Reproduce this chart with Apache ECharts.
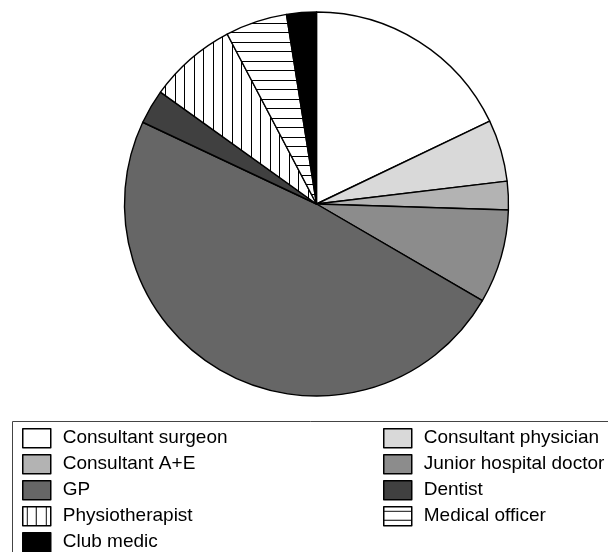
<!DOCTYPE html>
<html>
<head>
<meta charset="utf-8">
<script src="https://cdn.jsdelivr.net/npm/echarts@6/dist/echarts.min.js"></script>
<style>html,body{margin:0;padding:0;background:#fff;}#c{width:608px;height:552px;}</style>
</head>
<body>
<div id="c"></div>
<script>
var categories = ['Consultant surgeon','Consultant physician','Consultant A+E','Junior hospital doctor','GP','Dentist','Physiotherapist','Medical officer','Club medic'];
var values = [17.9, 5.2, 2.4, 7.9, 48.6, 2.9, 7.4, 5.2, 2.5];
var legendLeft = ['Consultant surgeon','Consultant A+E','GP','Physiotherapist','Club medic'];
var legendRight = ['Consultant physician','Junior hospital doctor','Dentist','Medical officer'];

function linePattern(vertical) {
  var cv = document.createElement('canvas');
  var s = 19;
  cv.width = s; cv.height = s;
  var ctx = cv.getContext('2d');
  ctx.fillStyle = '#fff';
  ctx.fillRect(0, 0, s, s);
  ctx.fillStyle = '#000';
  if (vertical) { ctx.fillRect(4, 0, 1, s); ctx.fillRect(13, 0, 1, s); }
  else { ctx.fillRect(0, 4, s, 1); ctx.fillRect(0, 13, s, 1); }
  return {image: cv, repeat: 'repeat'};
}
var fills = ['#ffffff','#d9d9d9','#b3b3b3','#8c8c8c','#666666','#404040', linePattern(true), linePattern(false), '#000000'];

var data = categories.map(function (n, i) {
  return {name: n, value: values[i], itemStyle: {color: fills[i]}};
});

var chart = echarts.init(document.getElementById('c'), null, {renderer: 'canvas'});
var legendCommon = {
  orient: 'vertical', itemWidth: 28, itemHeight: 19, itemGap: 5.5,
  icon: 'rect', selectedMode: false, padding: 0, height: 200,
  itemStyle: {borderColor: '#000', borderWidth: 1.5},
  textStyle: {fontFamily: 'Liberation Sans', fontSize: 19, lineHeight: 19, color: '#000', padding: [0, 0, 0, 7]}
};
chart.setOption({
  animation: false,
  graphic: [{type: 'rect', shape: {x: 12.5, y: 421.5, width: 700, height: 200}, style: {fill: 'none', stroke: '#444', lineWidth: 1}, z: -1}],
  legend: [
    Object.assign({}, legendCommon, {left: 22, top: 428, data: legendLeft}),
    Object.assign({}, legendCommon, {left: 383, top: 428, data: legendRight})
  ],
  series: [{
    type: 'pie',
    center: [316.5, 204],
    radius: 192,
    startAngle: 90,
    clockwise: true,
    label: {show: false},
    labelLine: {show: false},
    emphasis: {disabled: true},
    itemStyle: {borderColor: '#000', borderWidth: 1.4},
    data: data
  }]
});
</script>
</body>
</html>
